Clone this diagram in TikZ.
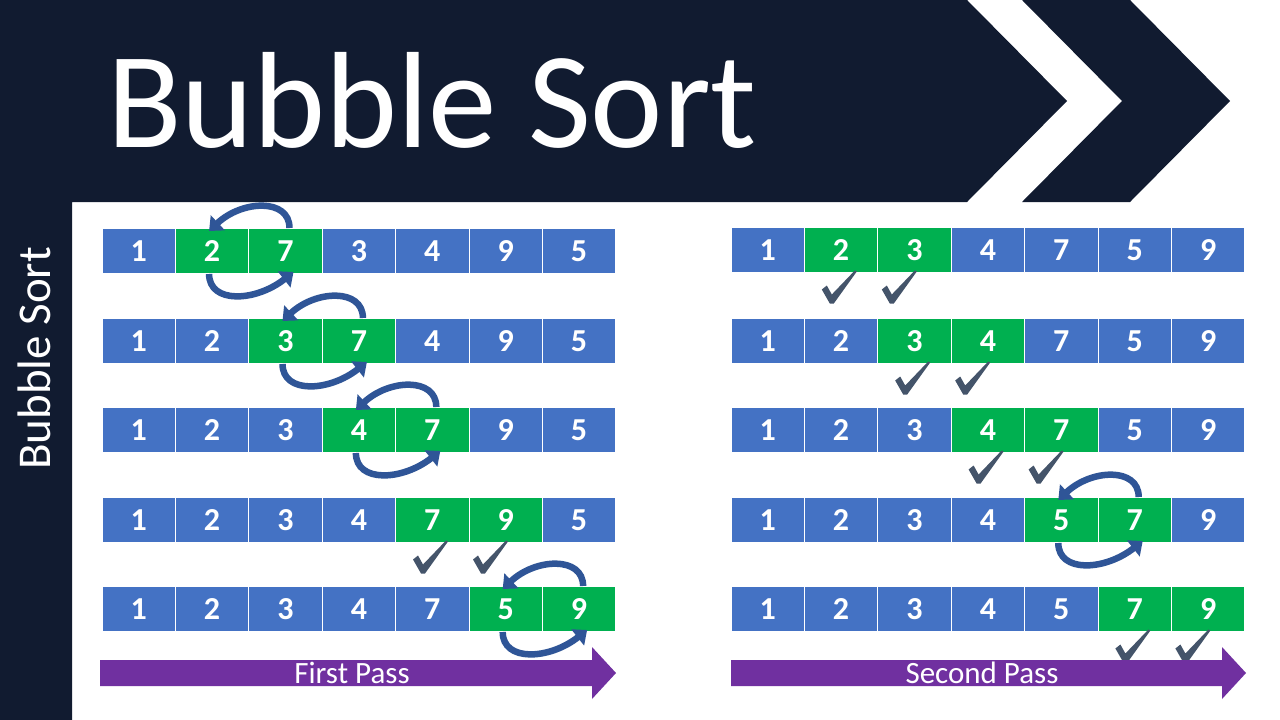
\documentclass[tikz,border=0pt]{standalone}
\usepackage{fontspec}
\setmainfont{Carlito}
\usetikzlibrary{calc,arrows.meta}
\definecolor{navy}{HTML}{111B30}
\definecolor{cblue}{HTML}{4472C4}
\definecolor{cgreen}{HTML}{00B050}
\definecolor{purp}{HTML}{7030A0}
\definecolor{arcblue}{HTML}{2F5597}
\definecolor{chkcol}{HTML}{44546A}
\tikzset{
  cellbox/.style={draw=white, line width=1pt, minimum width=73.4pt, minimum height=45pt,
    inner sep=0pt, text=white, font=\bfseries\fontsize{32}{32}\selectfont},
  swaparc/.style={draw=arcblue, line width=6.5pt, -{Triangle[length=12pt,width=20pt]}},
  passlbl/.style={text=white, inner sep=0pt, font=\fontsize{31}{31}\selectfont},
  chk/.pic={\fill[chkcol] (-17.5,2.5) -- (-12.5,-1.5) -- (-7.5,7.5) -- (15.5,-16.5) -- (17.5,-15.5) -- (-5.5,16.5) -- (-9.5,16.5) -- cycle;}
}
\newcommand\mkcellrow[6]{%
  \foreach \v [count=\i] in {#6}{%
    \pgfmathtruncatemacro\gA{#5}%
    \pgfmathtruncatemacro\gB{#5+1}%
    \ifnum\i=\gA \def\cc{cgreen}\else\ifnum\i=\gB \def\cc{cgreen}\else\def\cc{cblue}\fi\fi
    \node[cellbox, fill=\cc] (#1#2c\i) at ({#3+(\i-0.5)*73.4}, #4) {\v};
  }}
\newcommand\swaparrows[2]{%
  \draw[swaparc] ($(#2.north)+(4,0)$) .. controls ($(#2.north)+(4,-30)$) and ($(#1.north)+(30,-28)$) .. ($(#1.north)+(-3,3)$);
  \draw[swaparc] ($(#1.south)+(-3,0)$) .. controls ($(#1.south)+(-3,30)$) and ($(#2.south)+(-30,28)$) .. ($(#2.south)+(8,-2)$);
}
\newcommand\checkpair[1]{%
  \pic at ($(#1.south west)+(-38,14)$) {chk};
  \pic at ($(#1.south west)+(22,14)$) {chk};
}
\begin{document}
\begin{tikzpicture}[x=1pt,y=-1pt]
\useasboundingbox (0,0) rectangle (1280,720);
\fill[white] (0,0) rectangle (1280,720);
% header and sidebar
\fill[navy] (0,0) -- (967,0) -- (1067,101) -- (967,202) -- (72,202) -- (72,720) -- (0,720) -- cycle;
\fill[navy] (1022,0) -- (1130,0) -- (1230,101) -- (1130,202) -- (1022,202) -- (1122,101) -- cycle;
\node[anchor=base west, inner sep=0pt, text=white, font=\fontsize{137}{137}\selectfont] (title) at (107,147) {Bubble Sort};
\node[rotate=90, anchor=base west, inner sep=0pt, text=white, font=\fontsize{47}{47}\selectfont] (side) at (50,470) {Bubble Sort};
% left grid (first pass)
\mkcellrow{L}{1}{102}{251}{2}{1,2,7,3,4,9,5}
\mkcellrow{L}{2}{102}{341}{3}{1,2,3,7,4,9,5}
\mkcellrow{L}{3}{102}{430}{4}{1,2,3,4,7,9,5}
\mkcellrow{L}{4}{102}{520}{5}{1,2,3,4,7,9,5}
\mkcellrow{L}{5}{102}{609}{6}{1,2,3,4,7,5,9}
% right grid (second pass)
\mkcellrow{R}{1}{731}{250}{2}{1,2,3,4,7,5,9}
\mkcellrow{R}{2}{731}{341}{3}{1,2,3,4,7,5,9}
\mkcellrow{R}{3}{731}{430}{4}{1,2,3,4,7,5,9}
\mkcellrow{R}{4}{731}{520}{5}{1,2,3,4,5,7,9}
\mkcellrow{R}{5}{731}{609}{6}{1,2,3,4,5,7,9}
% swaps
\swaparrows{L1c2}{L1c3}
\swaparrows{L2c3}{L2c4}
\swaparrows{L3c4}{L3c5}
\swaparrows{L5c6}{L5c7}
\swaparrows{R4c5}{R4c6}
% checks
\checkpair{L4c6}
\checkpair{R1c3}
\checkpair{R2c4}
\checkpair{R3c5}
\checkpair{R5c7}
% pass arrows
\fill[purp] (100,660) -- (592,660) -- (592,647) -- (616,673) -- (592,699) -- (592,686) -- (100,686) -- cycle;
\node[passlbl] (p1) at (352,673) {First Pass};
\fill[purp] (731,660) -- (1222,660) -- (1222,647) -- (1246,673) -- (1222,699) -- (1222,686) -- (731,686) -- cycle;
\node[passlbl] (p2) at (982,673) {Second Pass};
\end{tikzpicture}
\end{document}
